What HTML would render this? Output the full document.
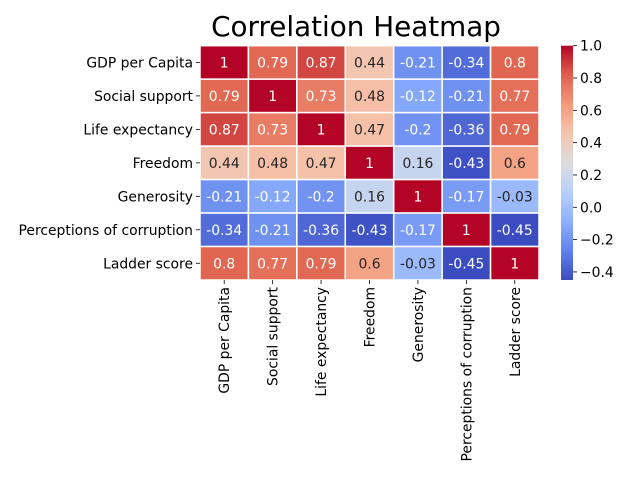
<!DOCTYPE html>
<html><head><meta charset="utf-8"><style>
body{margin:0;background:#fff;}
svg{display:block;font-family:"DejaVu Sans","Liberation Sans",sans-serif;}
</style></head><body>
<svg id="chart" width="640" height="480">
<text x="356" y="36" text-anchor="middle" font-size="27.8" fill="#000">Correlation Heatmap</text>
<g id="cells"></g>
<g id="ylabels"></g>
<g id="xlabels"></g>
<defs><linearGradient id="cbg" x1="0" y1="1" x2="0" y2="0"></linearGradient></defs>
<rect x="561" y="45.7" width="12" height="234.3" fill="url(#cbg)"/>
<g id="cbticks"></g>
</svg>
<script>
const labels = ["GDP per Capita","Social support","Life expectancy","Freedom","Generosity","Perceptions of corruption","Ladder score"];
const matrix = [
[1,0.79,0.87,0.44,-0.21,-0.34,0.8],
[0.79,1,0.73,0.48,-0.12,-0.21,0.77],
[0.87,0.73,1,0.47,-0.2,-0.36,0.79],
[0.44,0.48,0.47,1,0.16,-0.43,0.6],
[-0.21,-0.12,-0.2,0.16,1,-0.17,-0.03],
[-0.34,-0.21,-0.36,-0.43,-0.17,1,-0.45],
[0.8,0.77,0.79,0.6,-0.03,-0.45,1]
];
const cbTicks = [1.0,0.8,0.6,0.4,0.2,0.0,-0.2,-0.4];
const vmin = -0.45, vmax = 1.0;
const NS = "http://www.w3.org/2000/svg";
const X0=200, X1=539, Y0=45.7, Y1=280;
const FS=13.9;
const cw=(X1-X0)/labels.length, ch=(Y1-Y0)/labels.length;
const stops=[[59,76,192],[97,130,234],[141,176,254],[184,208,249],[221,221,221],[245,196,173],[244,154,123],[222,96,77],[180,4,38]];
function cmap(v){let t=Math.max(0,Math.min(1,(v-vmin)/(vmax-vmin)))*8;let i=Math.min(7,Math.floor(t)),f=t-i;
 const c=stops[i].map((a,k)=>Math.round(a+(stops[i+1][k]-a)*f));return c;}
function lum(c){const l=c.map(x=>{x/=255;return x<=0.03928?x/12.92:Math.pow((x+0.055)/1.055,2.4);});return 0.2126*l[0]+0.7152*l[1]+0.0722*l[2];}
function mk(tag,attrs,parent){const e=document.createElementNS(NS,tag);for(const k in attrs)e.setAttribute(k,attrs[k]);parent.appendChild(e);return e;}
const cells=document.getElementById('cells');
matrix.forEach((row,r)=>row.forEach((v,c)=>{
 const col=cmap(v);
 const rect=mk('rect',{x:X0+c*cw,y:Y0+r*ch,width:cw,height:ch,fill:`rgb(${col})`,stroke:'#fff','stroke-width':1.5},cells);
 
 
 const t=mk('text',{x:X0+(c+0.5)*cw,y:Y0+(r+0.5)*ch+5,'text-anchor':'middle','font-size':FS,fill:lum(col)>0.408?'#262626':'#fff'},cells);
 t.textContent=String(v);
 
 
}));
const yl=document.getElementById('ylabels'), xl=document.getElementById('xlabels');
labels.forEach((l,i)=>{
 const y=Y0+(i+0.5)*ch;
 mk('line',{x1:X0-4,x2:X0,y1:y,y2:y,stroke:'#000','stroke-width':0.8},yl);
 const t=mk('text',{x:X0-7,y:y+5,'text-anchor':'end','font-size':FS},yl);t.textContent=l;
 
 
 const x=X0+(i+0.5)*cw;
 mk('line',{x1:x,x2:x,y1:Y1,y2:Y1+4,stroke:'#000','stroke-width':0.8},xl);
 const u=mk('text',{x:0,y:0,'text-anchor':'end','font-size':FS,transform:`translate(${x+5},${Y1+7}) rotate(-90)`},xl);u.textContent=l;
 
 
});
const g=document.getElementById('cbg');
for(let i=0;i<=16;i++){const v=vmin+(vmax-vmin)*i/16;mk('stop',{offset:i/16,'stop-color':`rgb(${cmap(v)})`},g);}
const cbt=document.getElementById('cbticks');
cbTicks.forEach(v=>{
 const y=Y1-(v-vmin)/(vmax-vmin)*(Y1-Y0);
 mk('line',{x1:573,x2:577,y1:y,y2:y,stroke:'#000','stroke-width':0.8},cbt);
 const t=mk('text',{x:580,y:y+5,'font-size':FS},cbt);t.textContent=v.toFixed(1).replace('-','\u2212');
 
 
});
</script>
</body></html>
